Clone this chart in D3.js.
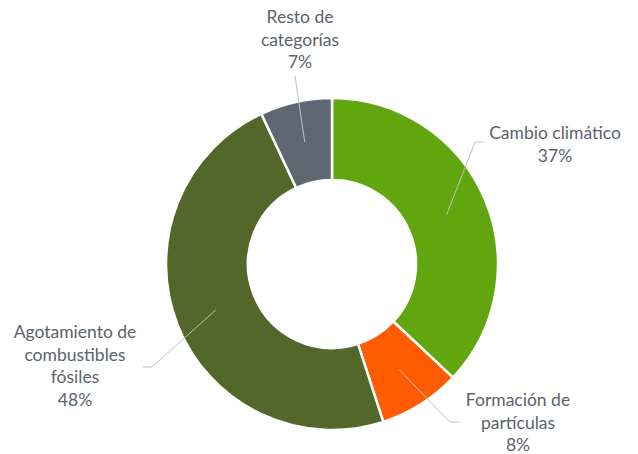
<!DOCTYPE html>
<html>
<head>
<meta charset="utf-8">
<script src="https://cdn.jsdelivr.net/npm/d3@7"></script>
<style>
  body { margin: 0; background: #fff; }
  text { font-family: Lato, "Open Sans", sans-serif; font-size: 17.5px; fill: #5b636c; }
</style>
</head>
<body>
<script>
// data
var categories = ["Cambio climático", "Formación de partículas", "Agotamiento de combustibles fósiles", "Resto de categorías"];
var values = [37, 8, 48, 7];
var labelLines = [["Cambio climático", "37%"], ["Formación de", "partículas", "8%"], ["Agotamiento de", "combustibles", "fósiles", "48%"], ["Resto de", "categorías", "7%"]];
var colors = ["#62a60f", "#ff5b00", "#54672b", "#5d6872"];

var width = 638, height = 454;
var cx = 332, cy = 264, outerR = 166, innerR = 84;

// leader line elbow/end and text anchor (layout only)
var layout = [
  { elbow: [475, 142], end: [483, 142], tx: 555, ty: 139 },
  { elbow: [450, 422], end: [459, 422], tx: 518, ty: 406 },
  { elbow: [152, 367], end: [143, 367], tx: 75, ty: 338 },
  { elbow: [295, 76], end: [295, 76], tx: 300, ty: 23 }
];
var lineH = 22.5;

var svg = d3.select("body").append("svg")
    .attr("width", width)
    .attr("height", height);

var pie = d3.pie().sort(null).value(function(d) { return d; });
var arc = d3.arc().innerRadius(innerR).outerRadius(outerR);

var g = svg.append("g")
    .attr("transform", "translate(" + cx + "," + cy + ")");

var arcs = pie(values);

g.selectAll("path")
    .data(arcs)
  .enter().append("path")
    .attr("d", arc)
    .style("fill", function(d, i) { return colors[i]; })
    .style("stroke", "#fff")
    .style("stroke-width", 2.5)
    .style("stroke-linejoin", "round");

// leader lines
svg.selectAll("polyline")
    .data(arcs)
  .enter().append("polyline")
    .attr("points", function(d, i) {
      var c = arc.centroid(d);
      var p0 = [c[0] + cx, c[1] + cy];
      return [p0, layout[i].elbow, layout[i].end].map(function(p) { return p.join(","); }).join(" ");
    })
    .style("fill", "none")
    .style("stroke", "#bfc3c7")
    .style("stroke-width", 1);

// labels
var labels = svg.selectAll("text.lbl")
    .data(labelLines)
  .enter().append("text")
    .attr("class", "lbl")
    .attr("text-anchor", "middle")
    .attr("x", function(d, i) { return layout[i].tx; })
    .attr("y", function(d, i) { return layout[i].ty; });

labels.selectAll("tspan")
    .data(function(d, i) { return d.map(function(t) { return { t: t, i: i }; }); })
  .enter().append("tspan")
    .attr("x", function(d) { return layout[d.i].tx; })
    .attr("dy", function(d, j) { return j === 0 ? 0 : lineH; })
    .text(function(d) { return d.t; });
</script>
</body>
</html>
